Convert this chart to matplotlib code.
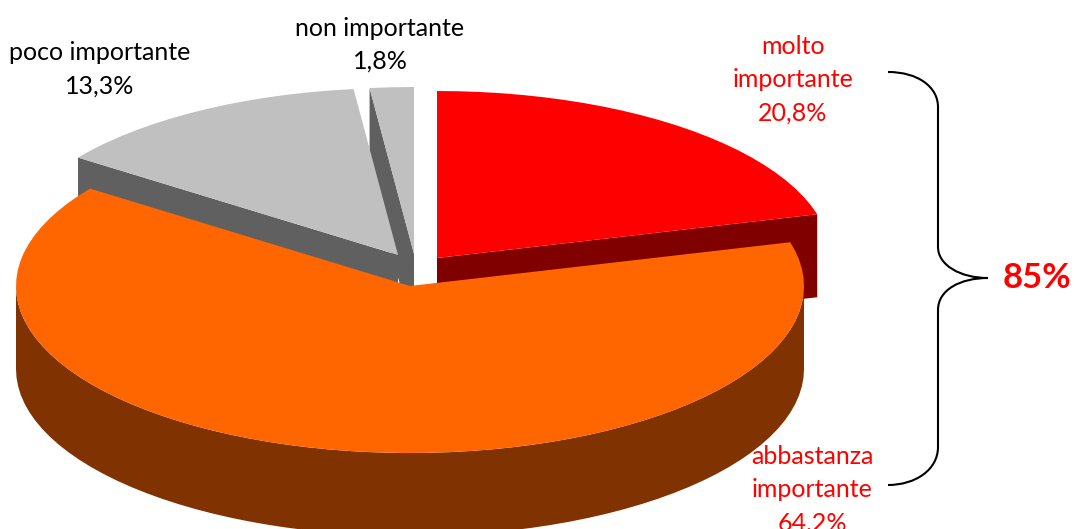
import matplotlib
matplotlib.use("Agg")
import matplotlib.pyplot as plt
import numpy as np
from matplotlib.patches import PathPatch, Polygon
from matplotlib.path import Path

plt.rcParams['font.family'] = ['Lato', 'DejaVu Sans']

# dati del grafico
categorie = ["molto importante", "abbastanza importante", "poco importante", "non importante"]
valori = [20.8, 64.2, 13.3, 1.8]
totale_parentesi = "85%"

# colori: faccia superiore e fianco di ogni fetta
colori_top = ["#FF0000", "#FF6600", "#C0C0C0", "#C0C0C0"]
colori_lato = ["#800000", "#803300", "#606060", "#606060"]
colori_testo = ["#FF0000", "#FF0000", "#000000", "#000000"]

# geometria della torta, in pixel
centri = [(437, 258), (410, 286), (398, 255), (414, 254)]
RX, RY = 394, 167
SPESSORE = 83

# righe delle etichette e loro posizione
righe = [["molto", "importante"], ["abbastanza", "importante"], ["poco importante"], ["non importante"]]
pos_etichette = [(793, 46), (812, 456), (100, 53), (380, 28)]
PASSO_RIGA = 33.5


def arco(c, a0, a1, passo=3.0):
    """Punti sull'ellisse, angoli in gradi in senso orario dalle ore 12"""
    n = max(int(abs(a1 - a0) / passo), 1) + 1
    t = np.radians(np.linspace(a0, a1, n))
    return np.column_stack([c[0] + RX * np.sin(t), c[1] - RY * np.cos(t)])


def fetta(ax, i, a0, a1):
    c = centri[i]
    top = arco(c, a0, a1)
    # fianco radiale: si vede solo quello rivolto verso chi guarda
    bordo = None
    if a1 <= 180:
        bordo = np.array([top[-1], c])
    elif a0 >= 180:
        bordo = np.array([top[0], c])
    if bordo is not None:
        ax.add_patch(Polygon(np.vstack([bordo, bordo[::-1] + [0, SPESSORE]]),
                             closed=True, fc=colori_lato[i], ec="none", zorder=zordine[i]))
    # fianco curvo, solo per la parte anteriore dell'ellisse
    lo, hi = max(a0, 90), min(a1, 270)
    if lo < hi:
        parete = arco(c, lo, hi)
        ax.add_patch(Polygon(np.vstack([parete, parete[::-1] + [0, SPESSORE]]),
                             closed=True, fc=colori_lato[i], ec="none", zorder=zordine[i]))
    ax.add_patch(Polygon(np.vstack([c, top]), closed=True, fc=colori_top[i], ec="none",
                         zorder=zordine[i] + 0.5))


def parentesi(ax):
    V, C = Path.MOVETO, Path.CURVE4
    L = Path.LINETO
    punti = [(888, 72), (918, 72), (938, 87), (938, 107),
             (938, 247),
             (938, 265), (960, 278), (988, 278),
             (960, 278), (938, 290), (938, 310),
             (938, 447),
             (938, 470), (915, 485), (888, 485)]
    codici = [V, C, C, C, L, C, C, C, C, C, C, L, C, C, C]
    ax.add_patch(PathPatch(Path(punti, codici), fc="none", ec="black", lw=1.5, zorder=5))


fig = plt.figure(figsize=(10.74, 5.29), dpi=100)
ax = fig.add_axes([0, 0, 1, 1])
ax.set_xlim(0, 1074)
ax.set_ylim(529, 0)
ax.axis("off")

# ordine di disegno: dal fondo verso il davanti
zordine = [2, 4, 3, 1]

angoli = np.concatenate([[0], np.cumsum(valori) / np.sum(valori) * 360])
for i in range(len(valori)):
    fetta(ax, i, angoli[i], angoli[i + 1])

parentesi(ax)

for i, v in enumerate(valori):
    x, y = pos_etichette[i]
    testo = righe[i] + [f"{v:.1f}".replace(".", ",") + "%"]
    for k, riga in enumerate(testo):
        ax.text(x, y + k * PASSO_RIGA, riga, color=colori_testo[i], fontsize=18,
                ha="center", va="center", zorder=6, clip_on=False)

ax.text(1037, 278, totale_parentesi, color="#FF0000", fontsize=25, fontweight="bold",
        ha="center", va="center", zorder=6)

fig.savefig("out.png", dpi=100)
